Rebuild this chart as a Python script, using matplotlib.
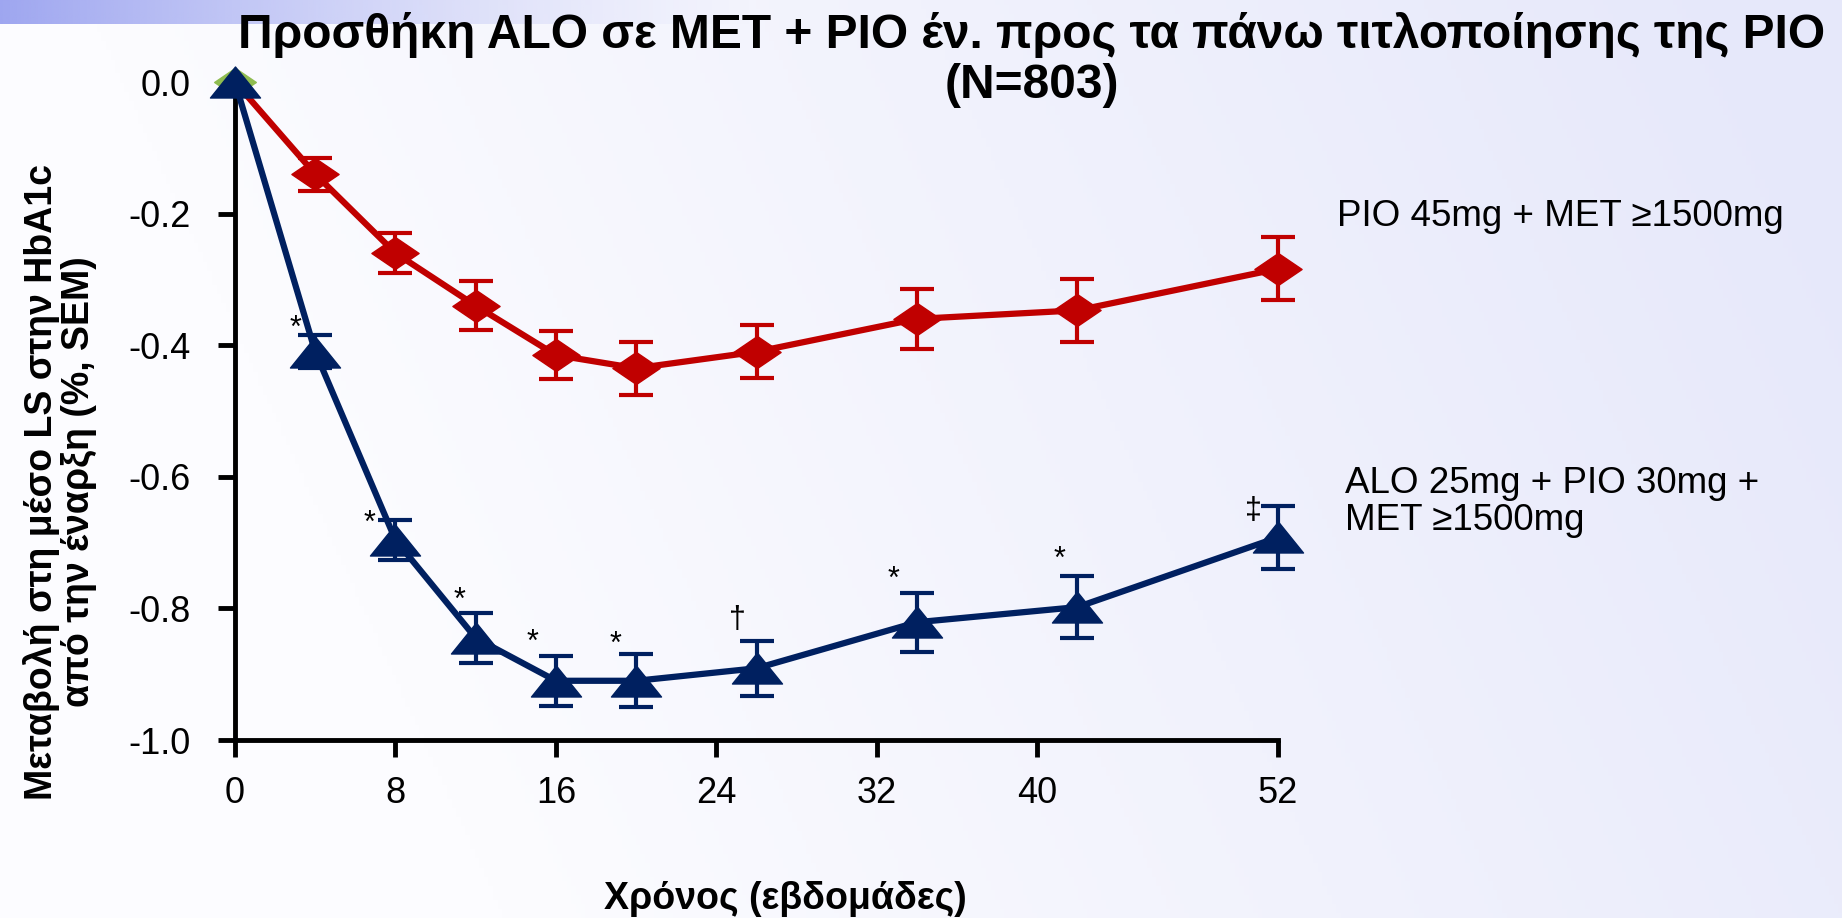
import numpy as np
import matplotlib
matplotlib.use('Agg')
import matplotlib.pyplot as plt
from matplotlib.path import Path

plt.rcParams['font.family'] = ['Liberation Sans', 'DejaVu Sans']

weeks = [0, 4, 8, 12, 16, 20, 26, 34, 42, 52]
pio = [0.0, -0.14, -0.26, -0.34, -0.415, -0.435, -0.41, -0.36, -0.347, -0.284]
pio_sem = [0.0, 0.025, 0.03, 0.037, 0.037, 0.04, 0.04, 0.046, 0.048, 0.048]
alo = [0.0, -0.41, -0.696, -0.845, -0.91, -0.91, -0.891, -0.821, -0.798, -0.692]
alo_sem = [0.0, 0.025, 0.03, 0.038, 0.038, 0.04, 0.042, 0.045, 0.047, 0.048]
signif = ['', '*', '*', '*', '*', '*', '\u2020', '*', '*', '\u2021']

xticks = [0, 8, 16, 24, 32, 40, 52]
yticks = [0.0, -0.2, -0.4, -0.6, -0.8, -1.0]

title = 'Προσθήκη ALO σε MET + PIO έν. προς τα πάνω τιτλοποίησης της PIO\n(N=803)'
ylab = 'Μεταβολή στη μέσο LS στην HbA1c\nαπό την έναρξη (%, SEM)'
xlab = 'Χρόνος (εβδομάδες)'
lab_pio = 'PIO 45mg + MET \u22651500mg'
lab_alo = 'ALO 25mg + PIO 30mg +\nMET \u22651500mg'

RED = '#c00000'
NAVY = '#002060'

# where each significance mark sits relative to the top of its error bar (pixels)
sig_dx = [0, -20, -26, -16, -23, -21, -19, -23, -18, -25]
sig_dy = [0, -2, -12, 4, 5, 2, 13, 5, 8, -13]

W, H = 1842, 918
fig = plt.figure(figsize=(W/100, H/100), dpi=100)

# background gradient
bg = fig.add_axes([0, 0, 1, 1], zorder=-10)
gx = np.linspace(0, 1, 400)[None, :]
gy = np.linspace(0, 1, 200)[:, None]
t = np.clip(gx*1.1 - 0.3 + 0.25*(1-gy), 0, 1)
c0 = np.array([252, 252, 255])/255.
c1 = np.array([230, 232, 250])/255.
img = c0[None, None, :]*(1-t[..., None]) + c1[None, None, :]*t[..., None]
bg.imshow(img, extent=[0, W, 0, H], aspect='auto', origin='upper')
# top blue band on left
band = np.linspace(1, 0, 400)[None, :]**1.3
bc = np.array([158, 166, 240])/255.
bimg = np.zeros((1, 400, 4))
bimg[..., :3] = bc
bimg[..., 3] = band
bg.imshow(bimg, extent=[0, 760, H-24, H], aspect='auto')
bg.set_xlim(0, W)
bg.set_ylim(0, H)
bg.axis('off')

ax = fig.add_axes([235/W, 1-740/H, (1278-235)/W, (740-82)/H])
ax.patch.set_alpha(0)

tri = Path([(0, 0.62), (-1, -0.62), (1, -0.62), (0, 0.62)],
           [Path.MOVETO, Path.LINETO, Path.LINETO, Path.CLOSEPOLY])
dia = Path([(0, 0.68), (1, 0), (0, -0.68), (-1, 0), (0, 0.68)],
           [Path.MOVETO, Path.LINETO, Path.LINETO, Path.LINETO, Path.CLOSEPOLY])

ax.errorbar(weeks[1:], pio[1:], yerr=pio_sem[1:], fmt='none', ecolor=RED,
            elinewidth=3, capsize=12, capthick=3, zorder=3, clip_on=False)
ax.plot(weeks, pio, color=RED, lw=4.5, zorder=4, clip_on=False)
ax.plot(weeks[1:], pio[1:], ls='none', marker=dia, ms=34, color=RED,
        mec=RED, zorder=5, clip_on=False)
ax.plot(weeks[:1], pio[:1], ls='none', marker=dia, ms=30, color='#8fbc50',
        zorder=5, clip_on=False)

ax.errorbar(weeks[1:], alo[1:], yerr=alo_sem[1:], fmt='none', ecolor=NAVY,
            elinewidth=3, capsize=12, capthick=3, zorder=6, clip_on=False)
ax.plot(weeks, alo, color=NAVY, lw=4.5, zorder=7, clip_on=False)
ax.plot(weeks, alo, ls='none', marker=tri, ms=36, color=NAVY, mec=NAVY,
        zorder=8, clip_on=False)

for i in range(len(weeks)):
    if signif[i]:
        ax.annotate(signif[i], xy=(weeks[i], alo[i] + alo_sem[i]),
                    xytext=(sig_dx[i], sig_dy[i]), textcoords='offset pixels',
                    ha='center', va='baseline', fontsize=22, zorder=9)

ax.set_xlim(0, 52)
ax.set_ylim(-1.0, 0.0)
ax.set_xticks(xticks)
ax.set_yticks(yticks)
ax.set_yticklabels(['%.1f' % v for v in yticks])
ax.tick_params(axis='both', direction='out', length=12, width=3.5,
               labelsize=26, color='black')
ax.tick_params(axis='y', pad=20)
ax.tick_params(axis='x', pad=14)
for side in ['top', 'right']:
    ax.spines[side].set_visible(False)
for side in ['left', 'bottom']:
    ax.spines[side].set_linewidth(3.5)

fig.text(1032/W, 1-60/H, title, ha='center', va='center', fontsize=34.5,
         fontweight='bold', linespacing=1.12)
fig.text(60/W, 1-482/H, ylab, ha='center', va='center', rotation=90,
         fontsize=27, fontweight='bold', linespacing=1.05)
fig.text(785/W, 1-899/H, xlab, ha='center', va='center', fontsize=27,
         fontweight='bold')
fig.text(1337/W, 1-217/H, lab_pio, ha='left', va='center', fontsize=26.5)
fig.text(1345/W, 1-502/H, lab_alo, ha='left', va='center', fontsize=26.5,
         linespacing=1.1)

fig.savefig('out.png', dpi=100)
